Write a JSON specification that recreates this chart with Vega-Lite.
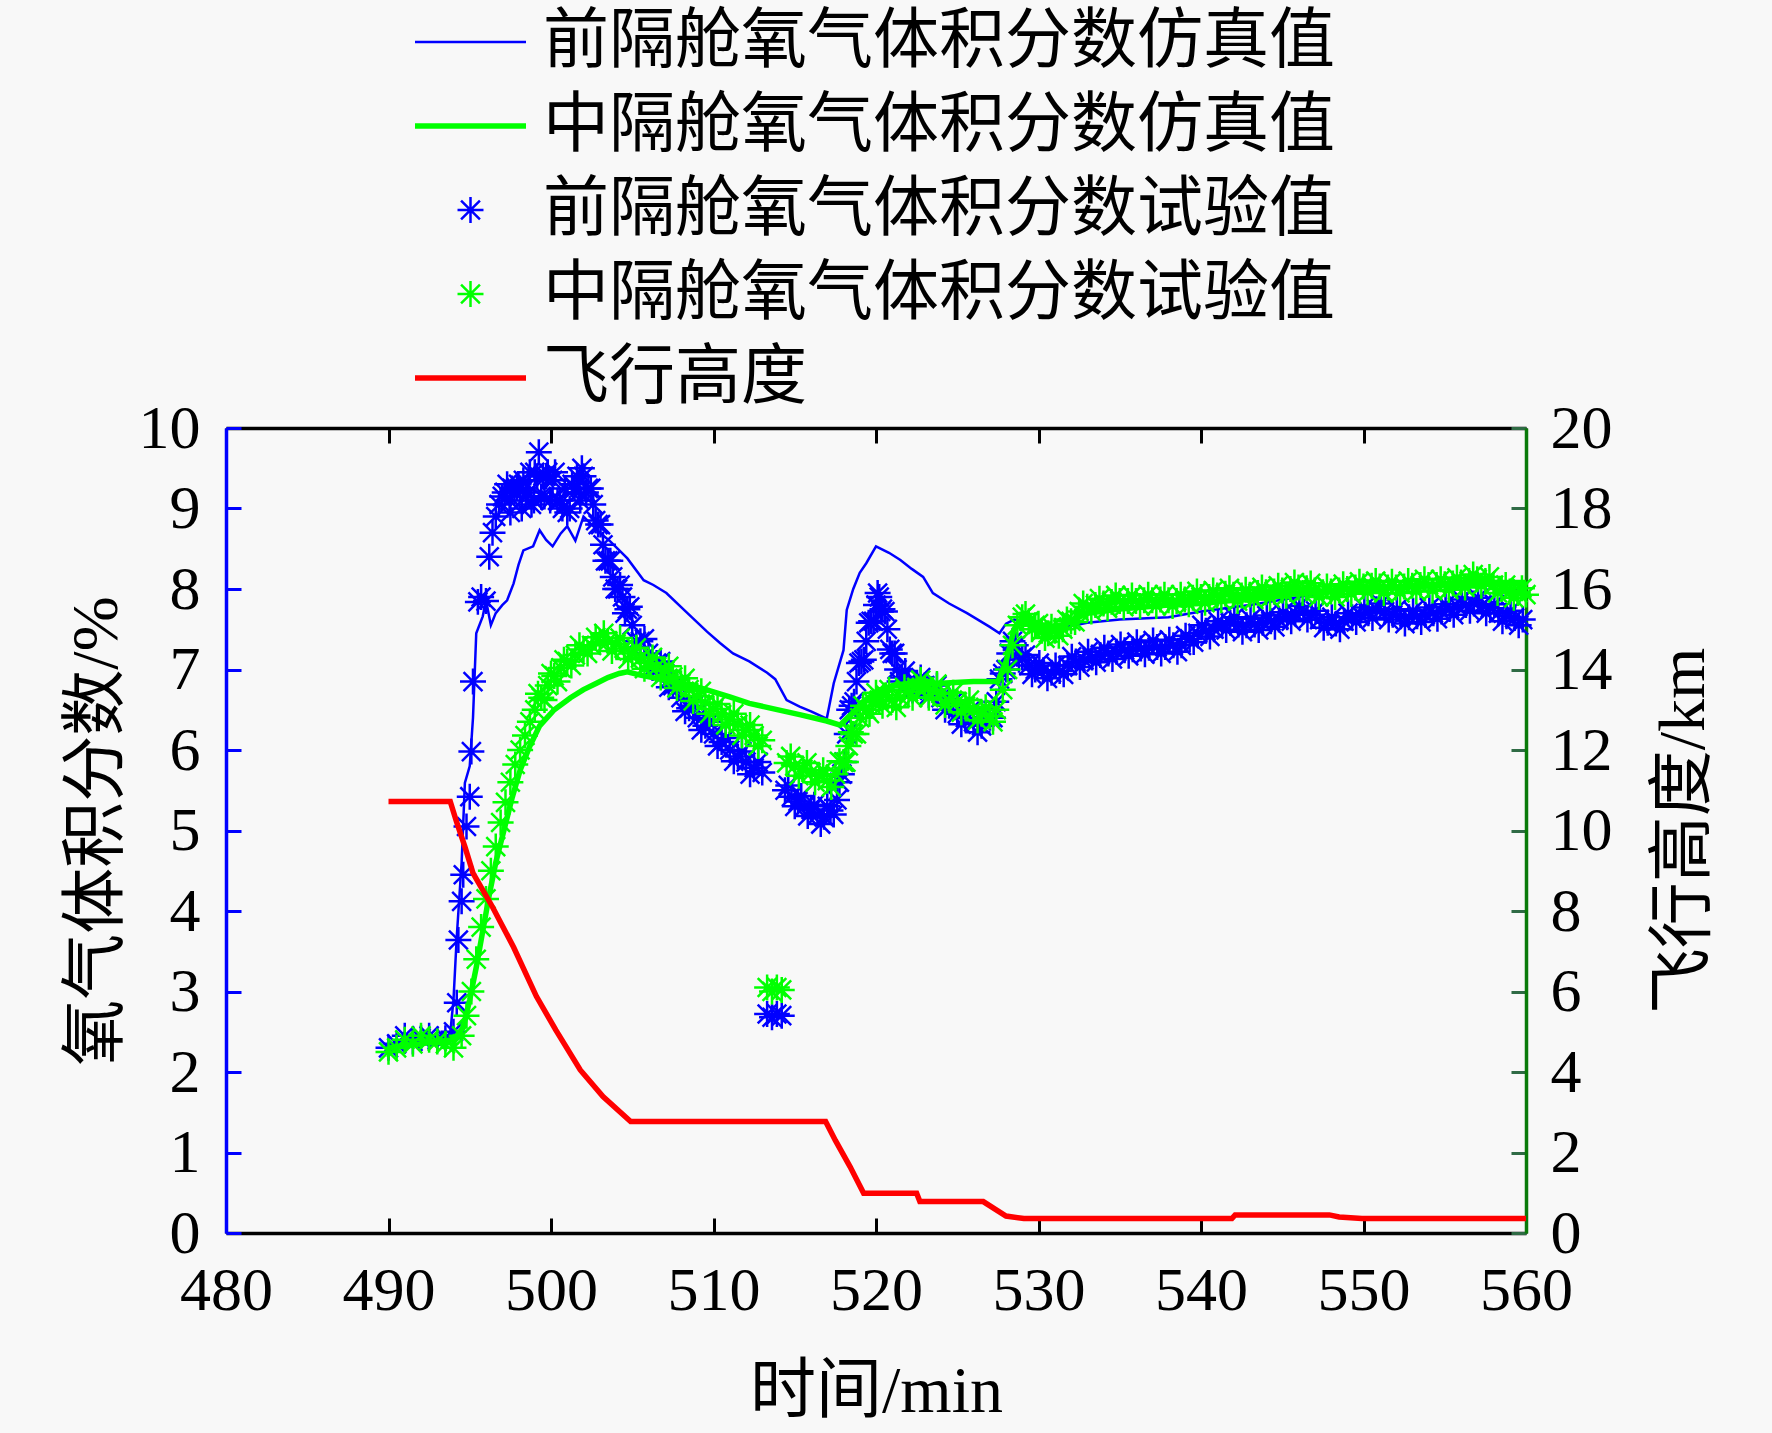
{
  "$schema": "https://vega.github.io/schema/vega-lite/v6.json",
  "description": "Oxygen volume fraction in the front and middle bays, simulation vs test, with flight altitude on a second axis",
  "width": 1300,
  "height": 805,
  "autosize": {"type": "none"},
  "padding": {"left": 226, "top": 428, "right": 246, "bottom": 200},
  "background": "#f8f8f8",
  "data": {
    "values": [
      {"s": "C", "t": 490.0, "v": 2.3}, {"s": "C", "t": 490.5, "v": 2.35}, {"s": "C", "t": 491.0, "v": 2.45}, {"s": "C", "t": 491.5, "v": 2.38},
      {"s": "C", "t": 492.0, "v": 2.42}, {"s": "C", "t": 492.5, "v": 2.45}, {"s": "C", "t": 493.0, "v": 2.4}, {"s": "C", "t": 493.5, "v": 2.42},
      {"s": "C", "t": 494.0, "v": 2.5}, {"s": "C", "t": 494.2, "v": 2.86}, {"s": "C", "t": 494.3, "v": 3.64}, {"s": "C", "t": 494.5, "v": 4.12},
      {"s": "C", "t": 494.6, "v": 4.45}, {"s": "C", "t": 494.8, "v": 5.05}, {"s": "C", "t": 495.0, "v": 5.42}, {"s": "C", "t": 495.1, "v": 5.98},
      {"s": "C", "t": 495.2, "v": 6.85}, {"s": "C", "t": 495.5, "v": 7.84}, {"s": "C", "t": 495.7, "v": 7.9}, {"s": "C", "t": 496.0, "v": 7.85},
      {"s": "C", "t": 496.2, "v": 8.4}, {"s": "C", "t": 496.4, "v": 8.7}, {"s": "C", "t": 496.6, "v": 8.9}, {"s": "C", "t": 496.8, "v": 9.05},
      {"s": "C", "t": 497.0, "v": 9.15}, {"s": "C", "t": 497.3, "v": 9.3}, {"s": "C", "t": 497.5, "v": 8.95}, {"s": "C", "t": 497.6, "v": 9.25},
      {"s": "C", "t": 498.0, "v": 9.3}, {"s": "C", "t": 498.2, "v": 9.0}, {"s": "C", "t": 498.3, "v": 9.35}, {"s": "C", "t": 498.6, "v": 9.2},
      {"s": "C", "t": 498.8, "v": 9.05}, {"s": "C", "t": 499.0, "v": 9.45}, {"s": "C", "t": 499.25, "v": 9.7}, {"s": "C", "t": 499.5, "v": 9.4},
      {"s": "C", "t": 499.6, "v": 9.15}, {"s": "C", "t": 499.8, "v": 9.45}, {"s": "C", "t": 500.1, "v": 9.35}, {"s": "C", "t": 500.4, "v": 9.1},
      {"s": "C", "t": 500.7, "v": 9.0}, {"s": "C", "t": 501.0, "v": 8.95}, {"s": "C", "t": 501.3, "v": 9.3}, {"s": "C", "t": 501.6, "v": 9.4},
      {"s": "C", "t": 501.8, "v": 9.1}, {"s": "C", "t": 502.0, "v": 9.4}, {"s": "C", "t": 502.3, "v": 9.25}, {"s": "C", "t": 502.6, "v": 9.05},
      {"s": "C", "t": 502.9, "v": 8.8}, {"s": "C", "t": 503.2, "v": 8.55}, {"s": "C", "t": 503.5, "v": 8.35}, {"s": "C", "t": 503.8, "v": 8.15},
      {"s": "C", "t": 504.1, "v": 8.0}, {"s": "C", "t": 504.4, "v": 7.9}, {"s": "C", "t": 504.7, "v": 7.75}, {"s": "C", "t": 505.0, "v": 7.55},
      {"s": "C", "t": 505.5, "v": 7.35}, {"s": "C", "t": 506.0, "v": 7.2}, {"s": "C", "t": 506.5, "v": 7.08}, {"s": "C", "t": 507.0, "v": 6.95},
      {"s": "C", "t": 507.5, "v": 6.8}, {"s": "C", "t": 508.0, "v": 6.65}, {"s": "C", "t": 508.5, "v": 6.52}, {"s": "C", "t": 509.0, "v": 6.4},
      {"s": "C", "t": 509.5, "v": 6.3}, {"s": "C", "t": 510.0, "v": 6.2}, {"s": "C", "t": 510.5, "v": 6.1}, {"s": "C", "t": 511.0, "v": 6.0},
      {"s": "C", "t": 511.5, "v": 5.92}, {"s": "C", "t": 512.0, "v": 5.85}, {"s": "C", "t": 512.5, "v": 5.78}, {"s": "C", "t": 513.0, "v": 5.72},
      {"s": "C", "t": 513.3, "v": 2.72}, {"s": "C", "t": 513.6, "v": 2.68}, {"s": "C", "t": 513.9, "v": 2.72}, {"s": "C", "t": 514.2, "v": 2.7},
      {"s": "C", "t": 514.4, "v": 5.5}, {"s": "C", "t": 514.8, "v": 5.42}, {"s": "C", "t": 515.2, "v": 5.36}, {"s": "C", "t": 515.6, "v": 5.3},
      {"s": "C", "t": 516.0, "v": 5.26}, {"s": "C", "t": 516.4, "v": 5.2}, {"s": "C", "t": 516.8, "v": 5.17}, {"s": "C", "t": 517.2, "v": 5.25},
      {"s": "C", "t": 517.6, "v": 5.38}, {"s": "C", "t": 517.9, "v": 5.7}, {"s": "C", "t": 518.2, "v": 6.2}, {"s": "C", "t": 518.5, "v": 6.55},
      {"s": "C", "t": 518.8, "v": 6.85}, {"s": "C", "t": 519.1, "v": 7.1}, {"s": "C", "t": 519.4, "v": 7.35}, {"s": "C", "t": 519.7, "v": 7.6},
      {"s": "C", "t": 520.0, "v": 7.8}, {"s": "C", "t": 520.2, "v": 7.9}, {"s": "C", "t": 520.4, "v": 7.75}, {"s": "C", "t": 520.7, "v": 7.5},
      {"s": "C", "t": 521.0, "v": 7.2}, {"s": "C", "t": 521.3, "v": 7.0}, {"s": "C", "t": 521.6, "v": 6.9}, {"s": "C", "t": 522.0, "v": 6.85},
      {"s": "C", "t": 522.5, "v": 6.82}, {"s": "C", "t": 523.0, "v": 6.8}, {"s": "C", "t": 523.5, "v": 6.75}, {"s": "C", "t": 524.0, "v": 6.65},
      {"s": "C", "t": 524.5, "v": 6.55}, {"s": "C", "t": 525.0, "v": 6.45}, {"s": "C", "t": 525.5, "v": 6.4}, {"s": "C", "t": 526.0, "v": 6.35},
      {"s": "C", "t": 526.5, "v": 6.3}, {"s": "C", "t": 527.0, "v": 6.4}, {"s": "C", "t": 527.4, "v": 6.6}, {"s": "C", "t": 527.8, "v": 6.95},
      {"s": "C", "t": 528.2, "v": 7.2}, {"s": "C", "t": 528.6, "v": 7.3}, {"s": "C", "t": 529.0, "v": 7.15}, {"s": "C", "t": 529.4, "v": 7.05},
      {"s": "C", "t": 529.8, "v": 7.0}, {"s": "C", "t": 530.3, "v": 6.99}, {"s": "C", "t": 530.8, "v": 6.96}, {"s": "C", "t": 531.3, "v": 6.98},
      {"s": "C", "t": 531.8, "v": 7.05}, {"s": "C", "t": 532.3, "v": 7.1}, {"s": "C", "t": 532.8, "v": 7.12}, {"s": "C", "t": 533.3, "v": 7.15},
      {"s": "C", "t": 533.8, "v": 7.18}, {"s": "C", "t": 534.3, "v": 7.2}, {"s": "C", "t": 534.8, "v": 7.22}, {"s": "C", "t": 535.3, "v": 7.24},
      {"s": "C", "t": 535.8, "v": 7.25}, {"s": "C", "t": 536.3, "v": 7.26}, {"s": "C", "t": 536.8, "v": 7.27}, {"s": "C", "t": 537.3, "v": 7.28},
      {"s": "C", "t": 537.8, "v": 7.28}, {"s": "C", "t": 538.3, "v": 7.3}, {"s": "C", "t": 538.8, "v": 7.3}, {"s": "C", "t": 539.3, "v": 7.38},
      {"s": "C", "t": 539.8, "v": 7.45}, {"s": "C", "t": 540.3, "v": 7.48}, {"s": "C", "t": 540.8, "v": 7.5}, {"s": "C", "t": 541.3, "v": 7.55},
      {"s": "C", "t": 541.8, "v": 7.58}, {"s": "C", "t": 542.3, "v": 7.56}, {"s": "C", "t": 542.8, "v": 7.55}, {"s": "C", "t": 543.3, "v": 7.56},
      {"s": "C", "t": 543.8, "v": 7.58}, {"s": "C", "t": 544.3, "v": 7.6}, {"s": "C", "t": 544.8, "v": 7.62}, {"s": "C", "t": 545.3, "v": 7.65},
      {"s": "C", "t": 545.8, "v": 7.7}, {"s": "C", "t": 546.3, "v": 7.72}, {"s": "C", "t": 546.8, "v": 7.68}, {"s": "C", "t": 547.3, "v": 7.62},
      {"s": "C", "t": 547.8, "v": 7.58}, {"s": "C", "t": 548.3, "v": 7.57}, {"s": "C", "t": 548.8, "v": 7.6}, {"s": "C", "t": 549.3, "v": 7.65},
      {"s": "C", "t": 549.8, "v": 7.68}, {"s": "C", "t": 550.3, "v": 7.7}, {"s": "C", "t": 550.8, "v": 7.75}, {"s": "C", "t": 551.3, "v": 7.72},
      {"s": "C", "t": 551.8, "v": 7.68}, {"s": "C", "t": 552.3, "v": 7.66}, {"s": "C", "t": 552.8, "v": 7.65}, {"s": "C", "t": 553.3, "v": 7.66},
      {"s": "C", "t": 553.8, "v": 7.68}, {"s": "C", "t": 554.3, "v": 7.7}, {"s": "C", "t": 554.8, "v": 7.72}, {"s": "C", "t": 555.3, "v": 7.75},
      {"s": "C", "t": 555.8, "v": 7.78}, {"s": "C", "t": 556.3, "v": 7.8}, {"s": "C", "t": 556.8, "v": 7.82}, {"s": "C", "t": 557.3, "v": 7.8},
      {"s": "C", "t": 557.8, "v": 7.76}, {"s": "C", "t": 558.3, "v": 7.7}, {"s": "C", "t": 558.8, "v": 7.66}, {"s": "C", "t": 559.3, "v": 7.64},
      {"s": "C", "t": 559.8, "v": 7.62},
      {"s": "C", "t": 497.15, "v": 9.2}, {"s": "C", "t": 497.45, "v": 9.1}, {"s": "C", "t": 497.75, "v": 9.2}, {"s": "C", "t": 497.9, "v": 9.25},
      {"s": "C", "t": 498.1, "v": 9.25}, {"s": "C", "t": 498.45, "v": 9.15}, {"s": "C", "t": 498.7, "v": 9.45}, {"s": "C", "t": 498.95, "v": 9.1},
      {"s": "C", "t": 499.15, "v": 9.4}, {"s": "C", "t": 499.4, "v": 9.15}, {"s": "C", "t": 499.7, "v": 9.4}, {"s": "C", "t": 499.95, "v": 9.1},
      {"s": "C", "t": 500.25, "v": 9.45}, {"s": "C", "t": 500.55, "v": 9.1}, {"s": "C", "t": 500.85, "v": 9.25}, {"s": "C", "t": 501.15, "v": 9.0},
      {"s": "C", "t": 501.45, "v": 9.25}, {"s": "C", "t": 501.7, "v": 9.2}, {"s": "C", "t": 501.9, "v": 9.5}, {"s": "C", "t": 502.15, "v": 9.2},
      {"s": "C", "t": 502.45, "v": 9.25}, {"s": "C", "t": 502.75, "v": 8.85}, {"s": "C", "t": 503.05, "v": 8.8}, {"s": "C", "t": 503.35, "v": 8.35},
      {"s": "C", "t": 503.65, "v": 8.35}, {"s": "C", "t": 503.95, "v": 8.0}, {"s": "C", "t": 504.25, "v": 8.05}, {"s": "C", "t": 504.55, "v": 7.7},
      {"s": "C", "t": 504.85, "v": 7.78}, {"s": "C", "t": 505.25, "v": 7.35}, {"s": "C", "t": 505.75, "v": 7.38}, {"s": "C", "t": 506.25, "v": 7.02},
      {"s": "C", "t": 506.75, "v": 7.1}, {"s": "C", "t": 507.25, "v": 6.78}, {"s": "C", "t": 507.75, "v": 6.82}, {"s": "C", "t": 508.25, "v": 6.48},
      {"s": "C", "t": 508.75, "v": 6.55}, {"s": "C", "t": 509.25, "v": 6.25}, {"s": "C", "t": 509.75, "v": 6.35}, {"s": "C", "t": 510.25, "v": 6.05},
      {"s": "C", "t": 510.75, "v": 6.15}, {"s": "C", "t": 511.25, "v": 5.86}, {"s": "C", "t": 511.75, "v": 5.98}, {"s": "C", "t": 512.25, "v": 5.7},
      {"s": "C", "t": 512.75, "v": 5.85},
      {"s": "C", "t": 514.6, "v": 5.56}, {"s": "C", "t": 515.0, "v": 5.3}, {"s": "C", "t": 515.4, "v": 5.43}, {"s": "C", "t": 515.8, "v": 5.18},
      {"s": "C", "t": 516.2, "v": 5.32}, {"s": "C", "t": 516.6, "v": 5.08}, {"s": "C", "t": 517.0, "v": 5.3}, {"s": "C", "t": 517.4, "v": 5.2},
      {"s": "C", "t": 517.75, "v": 5.6}, {"s": "C", "t": 518.05, "v": 5.85}, {"s": "C", "t": 518.35, "v": 6.5}, {"s": "C", "t": 518.65, "v": 6.6},
      {"s": "C", "t": 518.95, "v": 7.08}, {"s": "C", "t": 519.25, "v": 7.12}, {"s": "C", "t": 519.55, "v": 7.58}, {"s": "C", "t": 519.85, "v": 7.6},
      {"s": "C", "t": 520.1, "v": 7.95}, {"s": "C", "t": 520.3, "v": 7.72}, {"s": "C", "t": 520.55, "v": 7.72}, {"s": "C", "t": 520.85, "v": 7.25},
      {"s": "C", "t": 521.15, "v": 7.2}, {"s": "C", "t": 521.45, "v": 6.85}, {"s": "C", "t": 521.8, "v": 6.98}, {"s": "C", "t": 522.25, "v": 6.74},
      {"s": "C", "t": 522.75, "v": 6.9}, {"s": "C", "t": 523.25, "v": 6.68}, {"s": "C", "t": 523.75, "v": 6.8}, {"s": "C", "t": 524.25, "v": 6.5},
      {"s": "C", "t": 524.75, "v": 6.6}, {"s": "C", "t": 525.25, "v": 6.32}, {"s": "C", "t": 525.75, "v": 6.48}, {"s": "C", "t": 526.25, "v": 6.22},
      {"s": "C", "t": 526.75, "v": 6.45}, {"s": "C", "t": 527.2, "v": 6.4}, {"s": "C", "t": 527.6, "v": 6.88}, {"s": "C", "t": 528.0, "v": 7.0},
      {"s": "C", "t": 528.4, "v": 7.35}, {"s": "C", "t": 528.8, "v": 7.12},
      {"s": "C", "t": 529.2, "v": 7.18}, {"s": "C", "t": 529.6, "v": 6.94}, {"s": "C", "t": 530.05, "v": 7.08}, {"s": "C", "t": 530.55, "v": 6.89},
      {"s": "C", "t": 531.05, "v": 7.05}, {"s": "C", "t": 531.55, "v": 6.94}, {"s": "C", "t": 532.05, "v": 7.16}, {"s": "C", "t": 532.55, "v": 7.03},
      {"s": "C", "t": 533.05, "v": 7.22}, {"s": "C", "t": 533.55, "v": 7.09}, {"s": "C", "t": 534.05, "v": 7.27}, {"s": "C", "t": 534.55, "v": 7.13},
      {"s": "C", "t": 535.05, "v": 7.31}, {"s": "C", "t": 535.55, "v": 7.17}, {"s": "C", "t": 536.05, "v": 7.34}, {"s": "C", "t": 536.55, "v": 7.19},
      {"s": "C", "t": 537.05, "v": 7.36}, {"s": "C", "t": 537.55, "v": 7.2}, {"s": "C", "t": 538.05, "v": 7.37}, {"s": "C", "t": 538.55, "v": 7.22},
      {"s": "C", "t": 539.05, "v": 7.42}, {"s": "C", "t": 539.55, "v": 7.34}, {"s": "C", "t": 540.05, "v": 7.55}, {"s": "C", "t": 540.55, "v": 7.41},
      {"s": "C", "t": 541.05, "v": 7.6}, {"s": "C", "t": 541.55, "v": 7.49}, {"s": "C", "t": 542.05, "v": 7.65}, {"s": "C", "t": 542.55, "v": 7.47},
      {"s": "C", "t": 543.05, "v": 7.63}, {"s": "C", "t": 543.55, "v": 7.49}, {"s": "C", "t": 544.05, "v": 7.67}, {"s": "C", "t": 544.55, "v": 7.53},
      {"s": "C", "t": 545.05, "v": 7.71}, {"s": "C", "t": 545.55, "v": 7.6}, {"s": "C", "t": 546.05, "v": 7.79}, {"s": "C", "t": 546.55, "v": 7.62},
      {"s": "C", "t": 547.05, "v": 7.73}, {"s": "C", "t": 547.55, "v": 7.52}, {"s": "C", "t": 548.05, "v": 7.65}, {"s": "C", "t": 548.55, "v": 7.5},
      {"s": "C", "t": 549.05, "v": 7.7}, {"s": "C", "t": 549.55, "v": 7.59}, {"s": "C", "t": 550.05, "v": 7.77}, {"s": "C", "t": 550.55, "v": 7.64},
      {"s": "C", "t": 551.05, "v": 7.82}, {"s": "C", "t": 551.55, "v": 7.62}, {"s": "C", "t": 552.05, "v": 7.75}, {"s": "C", "t": 552.55, "v": 7.57},
      {"s": "C", "t": 553.05, "v": 7.73}, {"s": "C", "t": 553.55, "v": 7.59}, {"s": "C", "t": 554.05, "v": 7.77}, {"s": "C", "t": 554.55, "v": 7.63},
      {"s": "C", "t": 555.05, "v": 7.81}, {"s": "C", "t": 555.55, "v": 7.68}, {"s": "C", "t": 556.05, "v": 7.87}, {"s": "C", "t": 556.55, "v": 7.73},
      {"s": "C", "t": 557.05, "v": 7.89}, {"s": "C", "t": 557.55, "v": 7.7}, {"s": "C", "t": 558.05, "v": 7.81}, {"s": "C", "t": 558.55, "v": 7.6},
      {"s": "C", "t": 559.05, "v": 7.73}, {"s": "C", "t": 559.55, "v": 7.55},

      {"s": "A", "t": 490.0, "v": 2.3}, {"s": "A", "t": 490.5, "v": 2.32}, {"s": "A", "t": 491.0, "v": 2.4}, {"s": "A", "t": 491.5, "v": 2.36},
      {"s": "A", "t": 492.0, "v": 2.42}, {"s": "A", "t": 492.5, "v": 2.4}, {"s": "A", "t": 493.0, "v": 2.45}, {"s": "A", "t": 493.5, "v": 2.44},
      {"s": "A", "t": 493.8, "v": 2.48}, {"s": "A", "t": 494.0, "v": 2.9}, {"s": "A", "t": 494.2, "v": 3.68}, {"s": "A", "t": 494.5, "v": 4.6},
      {"s": "A", "t": 494.7, "v": 5.59}, {"s": "A", "t": 495.0, "v": 5.8}, {"s": "A", "t": 495.2, "v": 6.4}, {"s": "A", "t": 495.4, "v": 7.45},
      {"s": "A", "t": 495.8, "v": 7.66}, {"s": "A", "t": 496.0, "v": 7.86}, {"s": "A", "t": 496.3, "v": 7.55}, {"s": "A", "t": 496.6, "v": 7.7},
      {"s": "A", "t": 497.0, "v": 7.8}, {"s": "A", "t": 497.3, "v": 7.86}, {"s": "A", "t": 497.7, "v": 8.07}, {"s": "A", "t": 498.0, "v": 8.3},
      {"s": "A", "t": 498.3, "v": 8.48}, {"s": "A", "t": 498.9, "v": 8.53}, {"s": "A", "t": 499.3, "v": 8.73}, {"s": "A", "t": 499.7, "v": 8.61},
      {"s": "A", "t": 500.1, "v": 8.53}, {"s": "A", "t": 500.6, "v": 8.69}, {"s": "A", "t": 501.0, "v": 8.78}, {"s": "A", "t": 501.5, "v": 8.6},
      {"s": "A", "t": 502.0, "v": 8.9}, {"s": "A", "t": 502.5, "v": 8.8}, {"s": "A", "t": 503.0, "v": 8.7}, {"s": "A", "t": 503.6, "v": 8.6},
      {"s": "A", "t": 504.7, "v": 8.38}, {"s": "A", "t": 505.7, "v": 8.11}, {"s": "A", "t": 506.3, "v": 8.05}, {"s": "A", "t": 507.1, "v": 7.95},
      {"s": "A", "t": 508.3, "v": 7.72}, {"s": "A", "t": 509.6, "v": 7.47}, {"s": "A", "t": 510.4, "v": 7.33}, {"s": "A", "t": 511.2, "v": 7.2},
      {"s": "A", "t": 512.2, "v": 7.1}, {"s": "A", "t": 513.3, "v": 6.96}, {"s": "A", "t": 513.8, "v": 6.88}, {"s": "A", "t": 514.5, "v": 6.62},
      {"s": "A", "t": 515.3, "v": 6.54}, {"s": "A", "t": 516.0, "v": 6.48}, {"s": "A", "t": 516.97, "v": 6.39}, {"s": "A", "t": 517.4, "v": 6.83},
      {"s": "A", "t": 518.0, "v": 7.24}, {"s": "A", "t": 518.2, "v": 7.74}, {"s": "A", "t": 518.6, "v": 8.0}, {"s": "A", "t": 519.0, "v": 8.2},
      {"s": "A", "t": 519.4, "v": 8.32}, {"s": "A", "t": 520.0, "v": 8.53}, {"s": "A", "t": 520.8, "v": 8.45}, {"s": "A", "t": 521.5, "v": 8.36},
      {"s": "A", "t": 522.2, "v": 8.25}, {"s": "A", "t": 522.9, "v": 8.15}, {"s": "A", "t": 523.5, "v": 7.95}, {"s": "A", "t": 524.5, "v": 7.82},
      {"s": "A", "t": 525.6, "v": 7.7}, {"s": "A", "t": 527.0, "v": 7.53}, {"s": "A", "t": 527.6, "v": 7.45}, {"s": "A", "t": 528.0, "v": 7.57},
      {"s": "A", "t": 528.5, "v": 7.62}, {"s": "A", "t": 529.0, "v": 7.6}, {"s": "A", "t": 530.0, "v": 7.5}, {"s": "A", "t": 531.0, "v": 7.5},
      {"s": "A", "t": 533.0, "v": 7.58}, {"s": "A", "t": 535.0, "v": 7.62}, {"s": "A", "t": 538.0, "v": 7.65}, {"s": "A", "t": 540.0, "v": 7.72},
      {"s": "A", "t": 543.0, "v": 7.8}, {"s": "A", "t": 546.0, "v": 7.9}, {"s": "A", "t": 549.0, "v": 7.98}, {"s": "A", "t": 552.0, "v": 8.0},
      {"s": "A", "t": 556.0, "v": 8.05}, {"s": "A", "t": 560.0, "v": 8.05},

      {"s": "D", "t": 490.0, "v": 2.25}, {"s": "D", "t": 490.5, "v": 2.3}, {"s": "D", "t": 491.0, "v": 2.4}, {"s": "D", "t": 491.5, "v": 2.35},
      {"s": "D", "t": 492.0, "v": 2.45}, {"s": "D", "t": 492.5, "v": 2.4}, {"s": "D", "t": 493.0, "v": 2.38}, {"s": "D", "t": 493.5, "v": 2.35},
      {"s": "D", "t": 494.0, "v": 2.3}, {"s": "D", "t": 494.5, "v": 2.45}, {"s": "D", "t": 494.8, "v": 2.7}, {"s": "D", "t": 495.1, "v": 3.0},
      {"s": "D", "t": 495.4, "v": 3.4}, {"s": "D", "t": 495.7, "v": 3.8}, {"s": "D", "t": 496.0, "v": 4.15}, {"s": "D", "t": 496.3, "v": 4.5},
      {"s": "D", "t": 496.6, "v": 4.8}, {"s": "D", "t": 496.9, "v": 5.1}, {"s": "D", "t": 497.2, "v": 5.35}, {"s": "D", "t": 497.5, "v": 5.6},
      {"s": "D", "t": 497.8, "v": 5.82}, {"s": "D", "t": 498.1, "v": 6.0}, {"s": "D", "t": 498.4, "v": 6.18}, {"s": "D", "t": 498.7, "v": 6.35},
      {"s": "D", "t": 499.0, "v": 6.5}, {"s": "D", "t": 499.4, "v": 6.65}, {"s": "D", "t": 499.8, "v": 6.8}, {"s": "D", "t": 500.2, "v": 6.92},
      {"s": "D", "t": 500.6, "v": 7.02}, {"s": "D", "t": 501.0, "v": 7.1}, {"s": "D", "t": 501.5, "v": 7.18}, {"s": "D", "t": 502.0, "v": 7.25},
      {"s": "D", "t": 502.5, "v": 7.3}, {"s": "D", "t": 503.0, "v": 7.34}, {"s": "D", "t": 503.5, "v": 7.35}, {"s": "D", "t": 504.0, "v": 7.32},
      {"s": "D", "t": 504.5, "v": 7.26}, {"s": "D", "t": 505.0, "v": 7.2}, {"s": "D", "t": 505.5, "v": 7.14}, {"s": "D", "t": 506.0, "v": 7.08},
      {"s": "D", "t": 506.5, "v": 7.03}, {"s": "D", "t": 507.0, "v": 6.98}, {"s": "D", "t": 507.5, "v": 6.91}, {"s": "D", "t": 508.0, "v": 6.83},
      {"s": "D", "t": 508.5, "v": 6.75}, {"s": "D", "t": 509.0, "v": 6.67}, {"s": "D", "t": 509.5, "v": 6.59}, {"s": "D", "t": 510.0, "v": 6.51},
      {"s": "D", "t": 510.5, "v": 6.44}, {"s": "D", "t": 511.0, "v": 6.38}, {"s": "D", "t": 511.5, "v": 6.32}, {"s": "D", "t": 512.0, "v": 6.25},
      {"s": "D", "t": 512.5, "v": 6.18}, {"s": "D", "t": 513.0, "v": 6.12},
      {"s": "D", "t": 513.3, "v": 3.05}, {"s": "D", "t": 513.6, "v": 3.0}, {"s": "D", "t": 513.9, "v": 3.05}, {"s": "D", "t": 514.2, "v": 3.02},
      {"s": "D", "t": 514.5, "v": 5.84}, {"s": "D", "t": 515.0, "v": 5.8}, {"s": "D", "t": 515.5, "v": 5.76}, {"s": "D", "t": 516.0, "v": 5.72},
      {"s": "D", "t": 516.5, "v": 5.68}, {"s": "D", "t": 517.0, "v": 5.62}, {"s": "D", "t": 517.5, "v": 5.7}, {"s": "D", "t": 518.0, "v": 5.85},
      {"s": "D", "t": 518.3, "v": 6.05}, {"s": "D", "t": 518.6, "v": 6.2}, {"s": "D", "t": 519.0, "v": 6.4}, {"s": "D", "t": 519.4, "v": 6.5},
      {"s": "D", "t": 519.8, "v": 6.6}, {"s": "D", "t": 520.2, "v": 6.62}, {"s": "D", "t": 520.6, "v": 6.68}, {"s": "D", "t": 521.0, "v": 6.62},
      {"s": "D", "t": 521.5, "v": 6.65}, {"s": "D", "t": 522.0, "v": 6.72}, {"s": "D", "t": 522.5, "v": 6.78}, {"s": "D", "t": 523.0, "v": 6.76},
      {"s": "D", "t": 523.5, "v": 6.75}, {"s": "D", "t": 524.0, "v": 6.7}, {"s": "D", "t": 524.5, "v": 6.62}, {"s": "D", "t": 525.0, "v": 6.6},
      {"s": "D", "t": 525.5, "v": 6.55}, {"s": "D", "t": 526.0, "v": 6.5}, {"s": "D", "t": 526.5, "v": 6.45}, {"s": "D", "t": 527.0, "v": 6.42},
      {"s": "D", "t": 527.4, "v": 6.5}, {"s": "D", "t": 527.8, "v": 6.75}, {"s": "D", "t": 528.1, "v": 7.0}, {"s": "D", "t": 528.4, "v": 7.3},
      {"s": "D", "t": 528.7, "v": 7.55}, {"s": "D", "t": 529.0, "v": 7.65}, {"s": "D", "t": 529.4, "v": 7.6}, {"s": "D", "t": 529.8, "v": 7.55},
      {"s": "D", "t": 530.2, "v": 7.48}, {"s": "D", "t": 530.6, "v": 7.45}, {"s": "D", "t": 531.0, "v": 7.48}, {"s": "D", "t": 531.5, "v": 7.5},
      {"s": "D", "t": 532.0, "v": 7.6}, {"s": "D", "t": 532.5, "v": 7.72}, {"s": "D", "t": 533.0, "v": 7.78}, {"s": "D", "t": 533.5, "v": 7.8},
      {"s": "D", "t": 534.0, "v": 7.82}, {"s": "D", "t": 534.5, "v": 7.84}, {"s": "D", "t": 535.0, "v": 7.85}, {"s": "D", "t": 535.5, "v": 7.85},
      {"s": "D", "t": 536.0, "v": 7.85}, {"s": "D", "t": 536.5, "v": 7.86}, {"s": "D", "t": 537.0, "v": 7.86}, {"s": "D", "t": 537.5, "v": 7.87},
      {"s": "D", "t": 538.0, "v": 7.86}, {"s": "D", "t": 538.5, "v": 7.85}, {"s": "D", "t": 539.0, "v": 7.87}, {"s": "D", "t": 539.5, "v": 7.89},
      {"s": "D", "t": 540.0, "v": 7.9}, {"s": "D", "t": 540.5, "v": 7.9}, {"s": "D", "t": 541.0, "v": 7.92}, {"s": "D", "t": 541.5, "v": 7.94},
      {"s": "D", "t": 542.0, "v": 7.93}, {"s": "D", "t": 542.5, "v": 7.92}, {"s": "D", "t": 543.0, "v": 7.93}, {"s": "D", "t": 543.5, "v": 7.95},
      {"s": "D", "t": 544.0, "v": 7.96}, {"s": "D", "t": 544.5, "v": 7.97}, {"s": "D", "t": 545.0, "v": 7.98}, {"s": "D", "t": 545.5, "v": 8.0},
      {"s": "D", "t": 546.0, "v": 8.02}, {"s": "D", "t": 546.5, "v": 8.01}, {"s": "D", "t": 547.0, "v": 7.98}, {"s": "D", "t": 547.5, "v": 7.96},
      {"s": "D", "t": 548.0, "v": 7.97}, {"s": "D", "t": 548.5, "v": 7.98}, {"s": "D", "t": 549.0, "v": 8.0}, {"s": "D", "t": 549.5, "v": 8.02},
      {"s": "D", "t": 550.0, "v": 8.03}, {"s": "D", "t": 550.5, "v": 8.04}, {"s": "D", "t": 551.0, "v": 8.03}, {"s": "D", "t": 551.5, "v": 8.02},
      {"s": "D", "t": 552.0, "v": 8.02}, {"s": "D", "t": 552.5, "v": 8.03}, {"s": "D", "t": 553.0, "v": 8.04}, {"s": "D", "t": 553.5, "v": 8.05},
      {"s": "D", "t": 554.0, "v": 8.05}, {"s": "D", "t": 554.5, "v": 8.05}, {"s": "D", "t": 555.0, "v": 8.06}, {"s": "D", "t": 555.5, "v": 8.07},
      {"s": "D", "t": 556.0, "v": 8.08}, {"s": "D", "t": 556.5, "v": 8.1}, {"s": "D", "t": 557.0, "v": 8.12}, {"s": "D", "t": 557.5, "v": 8.1},
      {"s": "D", "t": 558.0, "v": 8.05}, {"s": "D", "t": 558.5, "v": 8.0}, {"s": "D", "t": 559.0, "v": 7.97}, {"s": "D", "t": 559.5, "v": 7.95},
      {"s": "D", "t": 560.0, "v": 7.93},
      {"s": "D", "t": 499.2, "v": 6.7}, {"s": "D", "t": 499.6, "v": 6.62}, {"s": "D", "t": 500.0, "v": 6.95}, {"s": "D", "t": 500.4, "v": 6.85},
      {"s": "D", "t": 500.8, "v": 7.12}, {"s": "D", "t": 501.25, "v": 7.05}, {"s": "D", "t": 501.75, "v": 7.3}, {"s": "D", "t": 502.25, "v": 7.2},
      {"s": "D", "t": 502.75, "v": 7.4},
      {"s": "D", "t": 503.25, "v": 7.45}, {"s": "D", "t": 503.75, "v": 7.23}, {"s": "D", "t": 504.25, "v": 7.39}, {"s": "D", "t": 504.75, "v": 7.13},
      {"s": "D", "t": 505.25, "v": 7.27}, {"s": "D", "t": 505.75, "v": 7.01}, {"s": "D", "t": 506.25, "v": 7.15}, {"s": "D", "t": 506.75, "v": 6.9},
      {"s": "D", "t": 507.25, "v": 7.04}, {"s": "D", "t": 507.75, "v": 6.77}, {"s": "D", "t": 508.25, "v": 6.89}, {"s": "D", "t": 508.75, "v": 6.61},
      {"s": "D", "t": 509.25, "v": 6.73}, {"s": "D", "t": 509.75, "v": 6.45}, {"s": "D", "t": 510.25, "v": 6.57}, {"s": "D", "t": 510.75, "v": 6.31},
      {"s": "D", "t": 511.25, "v": 6.45}, {"s": "D", "t": 511.75, "v": 6.18}, {"s": "D", "t": 512.25, "v": 6.31}, {"s": "D", "t": 512.75, "v": 6.05},
      {"s": "D", "t": 514.75, "v": 5.92}, {"s": "D", "t": 515.25, "v": 5.68}, {"s": "D", "t": 515.75, "v": 5.84}, {"s": "D", "t": 516.25, "v": 5.6},
      {"s": "D", "t": 516.75, "v": 5.75}, {"s": "D", "t": 517.25, "v": 5.54}, {"s": "D", "t": 517.75, "v": 5.86}, {"s": "D", "t": 518.15, "v": 5.85},
      {"s": "D", "t": 518.45, "v": 6.22}, {"s": "D", "t": 518.8, "v": 6.2}, {"s": "D", "t": 519.2, "v": 6.55}, {"s": "D", "t": 519.6, "v": 6.45},
      {"s": "D", "t": 520.0, "v": 6.71}, {"s": "D", "t": 520.4, "v": 6.55}, {"s": "D", "t": 520.8, "v": 6.75}, {"s": "D", "t": 521.25, "v": 6.53},
      {"s": "D", "t": 521.75, "v": 6.78}, {"s": "D", "t": 522.25, "v": 6.65}, {"s": "D", "t": 522.75, "v": 6.87}, {"s": "D", "t": 523.25, "v": 6.65},
      {"s": "D", "t": 523.75, "v": 6.82}, {"s": "D", "t": 524.25, "v": 6.56}, {"s": "D", "t": 524.75, "v": 6.71}, {"s": "D", "t": 525.25, "v": 6.47},
      {"s": "D", "t": 525.75, "v": 6.62}, {"s": "D", "t": 526.25, "v": 6.37}, {"s": "D", "t": 526.75, "v": 6.53}, {"s": "D", "t": 527.2, "v": 6.35},
      {"s": "D", "t": 529.2, "v": 7.69}, {"s": "D", "t": 529.6, "v": 7.5}, {"s": "D", "t": 530.0, "v": 7.57}, {"s": "D", "t": 530.4, "v": 7.39},
      {"s": "D", "t": 530.8, "v": 7.53}, {"s": "D", "t": 531.25, "v": 7.42}, {"s": "D", "t": 531.75, "v": 7.62}, {"s": "D", "t": 532.25, "v": 7.59},
      {"s": "D", "t": 532.75, "v": 7.82}, {"s": "D", "t": 533.25, "v": 7.72}, {"s": "D", "t": 533.75, "v": 7.88}, {"s": "D", "t": 534.25, "v": 7.76},
      {"s": "D", "t": 534.75, "v": 7.92}, {"s": "D", "t": 535.25, "v": 7.78}, {"s": "D", "t": 535.75, "v": 7.92}, {"s": "D", "t": 536.25, "v": 7.79},
      {"s": "D", "t": 536.75, "v": 7.93}, {"s": "D", "t": 537.25, "v": 7.79}, {"s": "D", "t": 537.75, "v": 7.93}, {"s": "D", "t": 538.25, "v": 7.79},
      {"s": "D", "t": 538.75, "v": 7.93}, {"s": "D", "t": 539.25, "v": 7.81}, {"s": "D", "t": 539.75, "v": 7.97}, {"s": "D", "t": 540.25, "v": 7.83},
      {"s": "D", "t": 540.75, "v": 7.98}, {"s": "D", "t": 541.25, "v": 7.86}, {"s": "D", "t": 541.75, "v": 8.01}, {"s": "D", "t": 542.25, "v": 7.85},
      {"s": "D", "t": 542.75, "v": 7.99}, {"s": "D", "t": 543.25, "v": 7.87}, {"s": "D", "t": 543.75, "v": 8.02}, {"s": "D", "t": 544.25, "v": 7.89},
      {"s": "D", "t": 544.75, "v": 8.04}, {"s": "D", "t": 545.25, "v": 7.92}, {"s": "D", "t": 545.75, "v": 8.08}, {"s": "D", "t": 546.25, "v": 7.95},
      {"s": "D", "t": 546.75, "v": 8.07}, {"s": "D", "t": 547.25, "v": 7.9}, {"s": "D", "t": 547.75, "v": 8.03}, {"s": "D", "t": 548.25, "v": 7.9},
      {"s": "D", "t": 548.75, "v": 8.06}, {"s": "D", "t": 549.25, "v": 7.94}, {"s": "D", "t": 549.75, "v": 8.09}, {"s": "D", "t": 550.25, "v": 7.96},
      {"s": "D", "t": 550.75, "v": 8.1}, {"s": "D", "t": 551.25, "v": 7.95}, {"s": "D", "t": 551.75, "v": 8.09}, {"s": "D", "t": 552.25, "v": 7.95},
      {"s": "D", "t": 552.75, "v": 8.1}, {"s": "D", "t": 553.25, "v": 7.97}, {"s": "D", "t": 553.75, "v": 8.12}, {"s": "D", "t": 554.25, "v": 7.98},
      {"s": "D", "t": 554.75, "v": 8.12}, {"s": "D", "t": 555.25, "v": 7.99}, {"s": "D", "t": 555.75, "v": 8.14}, {"s": "D", "t": 556.25, "v": 8.02},
      {"s": "D", "t": 556.75, "v": 8.18}, {"s": "D", "t": 557.25, "v": 8.04}, {"s": "D", "t": 557.75, "v": 8.15}, {"s": "D", "t": 558.25, "v": 7.95},
      {"s": "D", "t": 558.75, "v": 8.05}, {"s": "D", "t": 559.25, "v": 7.89}, {"s": "D", "t": 559.75, "v": 8.01},

      {"s": "B", "t": 490.0, "v": 2.3}, {"s": "B", "t": 491.0, "v": 2.32}, {"s": "B", "t": 492.0, "v": 2.35}, {"s": "B", "t": 493.0, "v": 2.38},
      {"s": "B", "t": 494.0, "v": 2.4}, {"s": "B", "t": 494.6, "v": 2.55}, {"s": "B", "t": 495.0, "v": 2.9}, {"s": "B", "t": 495.4, "v": 3.3},
      {"s": "B", "t": 495.8, "v": 3.75}, {"s": "B", "t": 496.2, "v": 4.2}, {"s": "B", "t": 496.6, "v": 4.6}, {"s": "B", "t": 497.1, "v": 5.0},
      {"s": "B", "t": 497.6, "v": 5.4}, {"s": "B", "t": 498.1, "v": 5.75}, {"s": "B", "t": 498.7, "v": 6.05}, {"s": "B", "t": 499.3, "v": 6.3},
      {"s": "B", "t": 500.2, "v": 6.5}, {"s": "B", "t": 501.2, "v": 6.65}, {"s": "B", "t": 502.0, "v": 6.75}, {"s": "B", "t": 502.8, "v": 6.83},
      {"s": "B", "t": 503.5, "v": 6.9}, {"s": "B", "t": 504.2, "v": 6.95}, {"s": "B", "t": 504.7, "v": 6.97}, {"s": "B", "t": 505.5, "v": 6.93},
      {"s": "B", "t": 507.0, "v": 6.87}, {"s": "B", "t": 509.2, "v": 6.77}, {"s": "B", "t": 511.0, "v": 6.66}, {"s": "B", "t": 512.2, "v": 6.58},
      {"s": "B", "t": 513.5, "v": 6.52}, {"s": "B", "t": 515.3, "v": 6.44}, {"s": "B", "t": 516.97, "v": 6.36}, {"s": "B", "t": 517.8, "v": 6.31},
      {"s": "B", "t": 518.5, "v": 6.45}, {"s": "B", "t": 519.2, "v": 6.6}, {"s": "B", "t": 520.0, "v": 6.72}, {"s": "B", "t": 521.0, "v": 6.8},
      {"s": "B", "t": 522.0, "v": 6.83}, {"s": "B", "t": 524.0, "v": 6.83}, {"s": "B", "t": 526.0, "v": 6.85}, {"s": "B", "t": 527.5, "v": 6.85},
      {"s": "B", "t": 528.0, "v": 7.1}, {"s": "B", "t": 528.5, "v": 7.5}, {"s": "B", "t": 529.0, "v": 7.6}, {"s": "B", "t": 530.0, "v": 7.5},
      {"s": "B", "t": 531.0, "v": 7.52}, {"s": "B", "t": 532.0, "v": 7.6}, {"s": "B", "t": 533.0, "v": 7.7}, {"s": "B", "t": 535.0, "v": 7.75},
      {"s": "B", "t": 538.0, "v": 7.8}, {"s": "B", "t": 540.0, "v": 7.82}, {"s": "B", "t": 543.0, "v": 7.88}, {"s": "B", "t": 546.0, "v": 7.95},
      {"s": "B", "t": 549.0, "v": 8.0}, {"s": "B", "t": 552.0, "v": 8.02}, {"s": "B", "t": 555.0, "v": 8.05}, {"s": "B", "t": 558.0, "v": 8.08},
      {"s": "B", "t": 560.0, "v": 8.08},

      {"s": "E", "t": 490.0, "v": 10.72}, {"s": "E", "t": 493.8, "v": 10.72}, {"s": "E", "t": 494.2, "v": 10.2}, {"s": "E", "t": 494.7, "v": 9.6},
      {"s": "E", "t": 495.2, "v": 8.94}, {"s": "E", "t": 496.4, "v": 8.1}, {"s": "E", "t": 497.7, "v": 7.1}, {"s": "E", "t": 499.1, "v": 5.88},
      {"s": "E", "t": 500.3, "v": 5.04}, {"s": "E", "t": 501.8, "v": 4.05}, {"s": "E", "t": 503.2, "v": 3.39}, {"s": "E", "t": 504.9, "v": 2.77},
      {"s": "E", "t": 516.9, "v": 2.77}, {"s": "E", "t": 517.5, "v": 2.3}, {"s": "E", "t": 518.4, "v": 1.65}, {"s": "E", "t": 519.24, "v": 0.99},
      {"s": "E", "t": 522.5, "v": 0.99}, {"s": "E", "t": 522.7, "v": 0.78}, {"s": "E", "t": 526.6, "v": 0.78}, {"s": "E", "t": 528.0, "v": 0.42},
      {"s": "E", "t": 529.1, "v": 0.36}, {"s": "E", "t": 541.9, "v": 0.36}, {"s": "E", "t": 542.1, "v": 0.45}, {"s": "E", "t": 547.9, "v": 0.45},
      {"s": "E", "t": 548.5, "v": 0.4}, {"s": "E", "t": 549.9, "v": 0.36}, {"s": "E", "t": 560.0, "v": 0.36}
    ]
  },
  "encoding": {
    "color": {
      "field": "s",
      "type": "nominal",
      "scale": {
        "domain": ["A", "B", "C", "D", "E"],
        "range": ["#0000ff", "#00ff00", "#0000ff", "#00ff00", "#ff0000"]
      },
      "legend": {
        "title": null,
        "orient": "none",
        "legendX": 186,
        "legendY": -428,
        "direction": "vertical",
        "padding": 0,
        "symbolSize": 12321,
        "clipHeight": 84,
        "labelFont": "Liberation Serif, Noto Sans CJK SC",
        "labelFontSize": 66,
        "labelColor": "black",
        "labelOffset": 14,
        "labelLimit": 1200,
        "rowPadding": 0,
        "labelExpr": "datum.value == 'A' ? '前隔舱氧气体积分数仿真值' : datum.value == 'B' ? '中隔舱氧气体积分数仿真值' : datum.value == 'C' ? '前隔舱氧气体积分数试验值' : datum.value == 'D' ? '中隔舱氧气体积分数试验值' : '飞行高度'"
      }
    },
    "strokeWidth": {
      "field": "s",
      "type": "nominal",
      "scale": {"type": "ordinal", "domain": ["A", "B", "C", "D", "E"], "range": [2.5, 5.5, 2.5, 2.5, 5.5]},
      "legend": {
        "title": null,
        "orient": "none",
        "legendX": 186,
        "legendY": -428,
        "direction": "vertical",
        "padding": 0,
        "symbolSize": 12321,
        "clipHeight": 84,
        "labelFont": "Liberation Serif, Noto Sans CJK SC",
        "labelFontSize": 66,
        "labelColor": "black",
        "labelOffset": 14,
        "labelLimit": 1200,
        "rowPadding": 0,
        "labelExpr": "datum.value == 'A' ? '前隔舱氧气体积分数仿真值' : datum.value == 'B' ? '中隔舱氧气体积分数仿真值' : datum.value == 'C' ? '前隔舱氧气体积分数试验值' : datum.value == 'D' ? '中隔舱氧气体积分数试验值' : '飞行高度'"
      }
    }
  },
  "layer": [
    {
      "encoding": {
        "x": {
          "field": "t",
          "type": "quantitative",
          "scale": {"domain": [480, 560], "nice": false, "zero": false},
          "axis": {
            "orient": "bottom",
            "values": [480, 490, 500, 510, 520, 530, 540, 550, 560],
            "title": "时间/min",
            "domainColor": "black",
            "tickColor": "black",
            "labelPadding": 42,
            "titlePadding": 38
          }
        },
        "y": {
          "field": "v",
          "type": "quantitative",
          "scale": {"domain": [0, 10], "nice": false, "zero": false},
          "axis": {
            "orient": "left",
            "values": [0, 1, 2, 3, 4, 5, 6, 7, 8, 9, 10],
            "title": "氧气体积分数/%",
            "domainColor": "#0000ff",
            "tickColor": "#0000ff",
            "labelPadding": 41,
            "titlePadding": 8
          }
        }
      },
      "layer": [
        {
          "transform": [{"filter": "datum.s == 'C'"}],
          "mark": {"type": "point", "filled": false, "size": 12321, "opacity": 1},
          "encoding": {
            "shape": {
              "field": "s",
              "type": "nominal",
              "scale": {
                "domain": ["A", "B", "C", "D", "E"],
                "range": ["stroke", "stroke", "M-0.234,0H0.234M0,-0.234V0.234M-0.17,-0.17L0.17,0.17M-0.17,0.17L0.17,-0.17", "M-0.234,0H0.234M0,-0.234V0.234M-0.17,-0.17L0.17,0.17M-0.17,0.17L0.17,-0.17", "stroke"]
              },
              "legend": {
                "title": null,
                "orient": "none",
                "legendX": 186,
                "legendY": -428,
                "direction": "vertical",
                "padding": 0,
                "symbolSize": 12321,
                "clipHeight": 84,
                "labelFont": "Liberation Serif, Noto Sans CJK SC",
                "labelFontSize": 66,
                "labelColor": "black",
                "labelOffset": 14,
                "labelLimit": 1200,
                "rowPadding": 0,
                "labelExpr": "datum.value == 'A' ? '前隔舱氧气体积分数仿真值' : datum.value == 'B' ? '中隔舱氧气体积分数仿真值' : datum.value == 'C' ? '前隔舱氧气体积分数试验值' : datum.value == 'D' ? '中隔舱氧气体积分数试验值' : '飞行高度'"
              }
            }
          }
        },
        {
          "transform": [{"filter": "datum.s == 'A'"}],
          "mark": {"type": "line"}
        },
        {
          "transform": [{"filter": "datum.s == 'D'"}],
          "mark": {"type": "point", "filled": false, "size": 12321, "opacity": 1},
          "encoding": {
            "shape": {
              "field": "s",
              "type": "nominal",
              "scale": {
                "domain": ["A", "B", "C", "D", "E"],
                "range": ["stroke", "stroke", "M-0.234,0H0.234M0,-0.234V0.234M-0.17,-0.17L0.17,0.17M-0.17,0.17L0.17,-0.17", "M-0.234,0H0.234M0,-0.234V0.234M-0.17,-0.17L0.17,0.17M-0.17,0.17L0.17,-0.17", "stroke"]
              },
              "legend": {
                "title": null,
                "orient": "none",
                "legendX": 186,
                "legendY": -428,
                "direction": "vertical",
                "padding": 0,
                "symbolSize": 12321,
                "clipHeight": 84,
                "labelFont": "Liberation Serif, Noto Sans CJK SC",
                "labelFontSize": 66,
                "labelColor": "black",
                "labelOffset": 14,
                "labelLimit": 1200,
                "rowPadding": 0,
                "labelExpr": "datum.value == 'A' ? '前隔舱氧气体积分数仿真值' : datum.value == 'B' ? '中隔舱氧气体积分数仿真值' : datum.value == 'C' ? '前隔舱氧气体积分数试验值' : datum.value == 'D' ? '中隔舱氧气体积分数试验值' : '飞行高度'"
              }
            }
          }
        },
        {
          "transform": [{"filter": "datum.s == 'B'"}],
          "mark": {"type": "line"}
        }
      ]
    },
    {
      "transform": [{"filter": "datum.s == 'E'"}],
      "mark": {"type": "line"},
      "encoding": {
        "x": {
          "field": "t",
          "type": "quantitative",
          "scale": {"domain": [480, 560], "nice": false, "zero": false},
          "axis": {
            "orient": "top",
            "values": [480, 490, 500, 510, 520, 530, 540, 550, 560],
            "labels": false,
            "title": null,
            "domainColor": "black",
            "tickColor": "black"
          }
        },
        "y": {
          "field": "v",
          "type": "quantitative",
          "scale": {"domain": [0, 20], "nice": false, "zero": false},
          "axis": {
            "orient": "right",
            "values": [0, 2, 4, 6, 8, 10, 12, 14, 16, 18, 20],
            "title": "飞行高度/km",
            "titleAngle": 270,
            "titleBaseline": "top",
            "domainColor": "#0a7a0a",
            "tickColor": "#2f6b45",
            "labelPadding": 39,
            "titlePadding": 39
          }
        }
      }
    }
  ],
  "resolve": {"scale": {"y": "independent"}},
  "config": {
    "view": {"stroke": null},
    "axis": {
      "grid": false,
      "labelFont": "Liberation Serif",
      "labelFontSize": 62,
      "labelColor": "black",
      "labelFlush": false,
      "labelOverlap": false,
      "titleFont": "Liberation Serif, Noto Sans CJK SC",
      "titleFontSize": 66,
      "titleFontWeight": "normal",
      "titleColor": "black",
      "tickSize": -15,
      "tickWidth": 3,
      "domainWidth": 3.5
    },
    "line": {"strokeCap": "butt", "strokeJoin": "miter"}
  }
}
